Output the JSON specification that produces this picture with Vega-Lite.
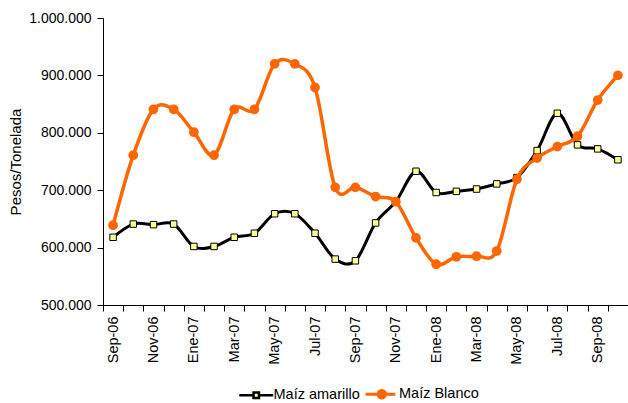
{
  "$schema": "https://vega.github.io/schema/vega-lite/v6.json",
  "width": 525,
  "height": 287,
  "autosize": "none",
  "padding": {"left": 103, "top": 18, "right": 0, "bottom": 98},
  "background": "white",
  "config": {
    "view": {"stroke": null},
    "font": "Liberation Sans",
    "axis": {"grid": false, "domainColor": "#000000", "tickColor": "#000000", "labelColor": "#000000", "titleColor": "#000000", "labelFont": "Liberation Sans", "titleFont": "Liberation Sans", "domainWidth": 1, "tickWidth": 1}
  },
  "datasets": {
    "precios": [
      {"mes": "Sep-06", "serie": "Maíz amarillo", "valor": 618000},
      {"mes": "Oct-06", "serie": "Maíz amarillo", "valor": 641000},
      {"mes": "Nov-06", "serie": "Maíz amarillo", "valor": 640000},
      {"mes": "Dic-06", "serie": "Maíz amarillo", "valor": 641000},
      {"mes": "Ene-07", "serie": "Maíz amarillo", "valor": 602000},
      {"mes": "Feb-07", "serie": "Maíz amarillo", "valor": 602000},
      {"mes": "Mar-07", "serie": "Maíz amarillo", "valor": 618000},
      {"mes": "Abr-07", "serie": "Maíz amarillo", "valor": 625000},
      {"mes": "May-07", "serie": "Maíz amarillo", "valor": 659000},
      {"mes": "Jun-07", "serie": "Maíz amarillo", "valor": 659000},
      {"mes": "Jul-07", "serie": "Maíz amarillo", "valor": 625000},
      {"mes": "Ago-07", "serie": "Maíz amarillo", "valor": 580000},
      {"mes": "Sep-07", "serie": "Maíz amarillo", "valor": 577000},
      {"mes": "Oct-07", "serie": "Maíz amarillo", "valor": 643000},
      {"mes": "Nov-07", "serie": "Maíz amarillo", "valor": 680000},
      {"mes": "Dic-07", "serie": "Maíz amarillo", "valor": 733000},
      {"mes": "Ene-08", "serie": "Maíz amarillo", "valor": 696000},
      {"mes": "Feb-08", "serie": "Maíz amarillo", "valor": 698000},
      {"mes": "Mar-08", "serie": "Maíz amarillo", "valor": 702000},
      {"mes": "Abr-08", "serie": "Maíz amarillo", "valor": 711000},
      {"mes": "May-08", "serie": "Maíz amarillo", "valor": 722000},
      {"mes": "Jun-08", "serie": "Maíz amarillo", "valor": 769000},
      {"mes": "Jul-08", "serie": "Maíz amarillo", "valor": 834000},
      {"mes": "Ago-08", "serie": "Maíz amarillo", "valor": 779000},
      {"mes": "Sep-08", "serie": "Maíz amarillo", "valor": 772000},
      {"mes": "Oct-08", "serie": "Maíz amarillo", "valor": 753000},
      {"mes": "Sep-06", "serie": "Maíz Blanco", "valor": 639000},
      {"mes": "Oct-06", "serie": "Maíz Blanco", "valor": 761000},
      {"mes": "Nov-06", "serie": "Maíz Blanco", "valor": 841000},
      {"mes": "Dic-06", "serie": "Maíz Blanco", "valor": 841000},
      {"mes": "Ene-07", "serie": "Maíz Blanco", "valor": 801000},
      {"mes": "Feb-07", "serie": "Maíz Blanco", "valor": 761000},
      {"mes": "Mar-07", "serie": "Maíz Blanco", "valor": 841000},
      {"mes": "Abr-07", "serie": "Maíz Blanco", "valor": 841000},
      {"mes": "May-07", "serie": "Maíz Blanco", "valor": 920000},
      {"mes": "Jun-07", "serie": "Maíz Blanco", "valor": 920000},
      {"mes": "Jul-07", "serie": "Maíz Blanco", "valor": 879000},
      {"mes": "Ago-07", "serie": "Maíz Blanco", "valor": 705000},
      {"mes": "Sep-07", "serie": "Maíz Blanco", "valor": 705000},
      {"mes": "Oct-07", "serie": "Maíz Blanco", "valor": 689000},
      {"mes": "Nov-07", "serie": "Maíz Blanco", "valor": 680000},
      {"mes": "Dic-07", "serie": "Maíz Blanco", "valor": 617000},
      {"mes": "Ene-08", "serie": "Maíz Blanco", "valor": 571000},
      {"mes": "Feb-08", "serie": "Maíz Blanco", "valor": 584000},
      {"mes": "Mar-08", "serie": "Maíz Blanco", "valor": 585000},
      {"mes": "Abr-08", "serie": "Maíz Blanco", "valor": 594000},
      {"mes": "May-08", "serie": "Maíz Blanco", "valor": 719000},
      {"mes": "Jun-08", "serie": "Maíz Blanco", "valor": 756000},
      {"mes": "Jul-08", "serie": "Maíz Blanco", "valor": 776000},
      {"mes": "Ago-08", "serie": "Maíz Blanco", "valor": 794000},
      {"mes": "Sep-08", "serie": "Maíz Blanco", "valor": 857000},
      {"mes": "Oct-08", "serie": "Maíz Blanco", "valor": 900000}
    ]
  },
  "data": {"name": "precios"},
  "encoding": {
    "x": {
      "field": "mes",
      "type": "ordinal",
      "sort": null,
      "bandPosition": 0.5,
      "scale": {
        "type": "band",
        "paddingInner": 0,
        "paddingOuter": 0,
        "domain": ["Sep-06","Oct-06","Nov-06","Dic-06","Ene-07","Feb-07","Mar-07","Abr-07","May-07","Jun-07","Jul-07","Ago-07","Sep-07","Oct-07","Nov-07","Dic-07","Ene-08","Feb-08","Mar-08","Abr-08","May-08","Jun-08","Jul-08","Ago-08","Sep-08","Oct-08"]
      },
      "axis": {
        "title": null,
        "tickBand": "extent",
        "tickSize": 6,
        "labelAngle": -90,
        "labelAlign": "right",
        "labelBaseline": "middle",
        "labelPadding": 5,
        "labelFontSize": 14.5,
        "labelOverlap": false,
        "labelExpr": "indexof(['Sep-06','Nov-06','Ene-07','Mar-07','May-07','Jul-07','Sep-07','Nov-07','Ene-08','Mar-08','May-08','Jul-08','Sep-08'], datum.value) >= 0 ? datum.value : ''"
      }
    },
    "y": {
      "field": "valor",
      "type": "quantitative",
      "scale": {"domain": [500000, 1000000], "zero": false, "nice": false},
      "axis": {
        "title": "Pesos/Tonelada",
        "titleFontSize": 15,
        "titleFontWeight": "normal",
        "titlePadding": 5,
        "values": [500000, 600000, 700000, 800000, 900000, 1000000],
        "tickSize": 6,
        "labelPadding": 6,
        "labelFontSize": 14,
        "labelExpr": "replace(replace(format(datum.value, ','), ',', '.'), ',', '.')"
      }
    }
  },
  "layer": [
    {
      "transform": [{"filter": "datum.serie === 'Maíz amarillo'"}],
      "mark": {"type": "line", "interpolate": "cardinal", "strokeWidth": 3},
      "encoding": {
        "color": {
          "field": "serie",
          "type": "nominal",
          "scale": {"domain": ["Maíz amarillo", "Maíz Blanco"], "range": ["#000000", "#FF6600"]},
          "legend": {
            "title": null,
            "orient": "none",
            "legendX": 146,
            "legendY": 369,
            "direction": "horizontal",
            "symbolSize": 1156,
            "symbolStrokeWidth": 3,
            "symbolType": "M-1,0H1",
            "labelFontSize": 14.5,
            "labelFont": "Liberation Sans",
            "labelColor": "#000000",
            "labelOffset": 10,
            "columnPadding": -0.5,
            "encode": {
              "symbols": {
                "update": {
                  "size": {"value": 1156},
                  "shape": {"signal": "datum.value === 'Maíz amarillo' ? 'M-1,0H-0.16M0.16,0H1M-0.16,-0.16H0.16V0.16H-0.16Z' : 'M-0.95,0H0.8M0.22,0A0.22,0.22 0 1,1 -0.22,0A0.22,0.22 0 1,1 0.22,0Z'"},
                  "fill": {"signal": "datum.value === 'Maíz amarillo' ? '#FFFF99' : '#FF6600'"},
                  "strokeWidth": {"signal": "datum.value === 'Maíz amarillo' ? 2.5 : 3"}
                }
              }
            }
          }
        }
      }
    },
    {
      "transform": [{"filter": "datum.serie === 'Maíz amarillo'"}],
      "mark": {"type": "point", "shape": "square", "filled": true, "fill": "#FFFF99", "stroke": "#000000", "strokeWidth": 1, "size": 42, "opacity": 1},
      "encoding": {}
    },
    {
      "transform": [{"filter": "datum.serie === 'Maíz Blanco'"}],
      "mark": {"type": "line", "interpolate": "cardinal", "strokeWidth": 3.5},
      "encoding": {
        "color": {"field": "serie", "type": "nominal", "scale": {"domain": ["Maíz amarillo", "Maíz Blanco"], "range": ["#000000", "#FF6600"]}}
      }
    },
    {
      "transform": [{"filter": "datum.serie === 'Maíz Blanco'"}],
      "mark": {"type": "circle", "size": 95, "color": "#FF6600", "opacity": 1},
      "encoding": {}
    }
  ]
}
